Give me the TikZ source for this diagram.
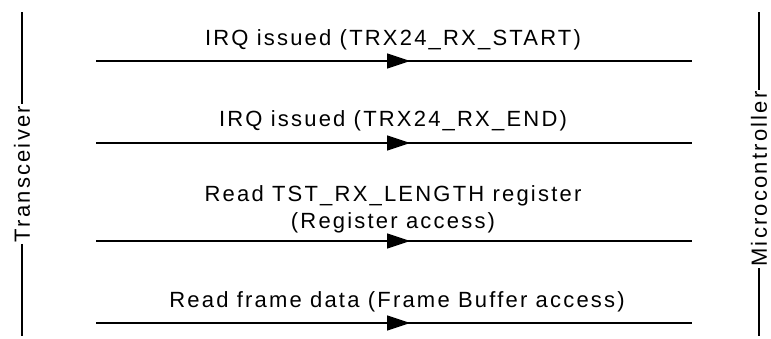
\documentclass[tikz,border=0pt]{standalone}
\usepackage{fontspec}
\setmainfont[LetterSpace=10]{Liberation Sans}
\usetikzlibrary{arrows.meta,decorations.markings}
\begin{document}
\begin{tikzpicture}[x=1pt,y=-1pt,
  lbl/.style={font=\fontsize{22}{27}\selectfont, inner sep=0pt, anchor=base, align=center},
  life/.style={font=\fontsize{22}{27}\selectfont, rotate=90, inner xsep=1.5pt, inner ysep=0pt},
  lifeline/.style={line width=1.3pt},
  msg/.style={line width=1.3pt, postaction={decorate},
    decoration={markings, mark=at position 0.527 with {\arrow{Triangle[length=23pt,width=15pt]}}}}]
\useasboundingbox (0,0) rectangle (771,338);
% lifelines
\coordinate (Ltop) at (22,12);
\coordinate (Lbot) at (22,336);
\node[life] (T) at (22,174) {Transceiver};
\draw[lifeline] (Ltop) -- (T.east);
\draw[lifeline] (T.west) -- (Lbot);
\coordinate (Rtop) at (759,12);
\coordinate (Rbot) at (759,336);
\node[life] (M) at (759,179) {Microcontroller};
\draw[lifeline] (Rtop) -- (M.east);
\draw[lifeline] (M.west) -- (Rbot);
% messages
\coordinate (a1) at (96,61);  \coordinate (b1) at (692,61);
\coordinate (a2) at (96,143); \coordinate (b2) at (692,143);
\coordinate (a3) at (96,241); \coordinate (b3) at (692,241);
\coordinate (a4) at (96,323); \coordinate (b4) at (692,323);
\draw[msg] (a1) -- (b1);
\draw[msg] (a2) -- (b2);
\draw[msg] (a3) -- (b3);
\draw[msg] (a4) -- (b4);
\node[lbl] (t1) at (393,45) {IRQ issued (TRX24\_RX\_START)};
\node[lbl] (t2) at (393,126) {IRQ issued (TRX24\_RX\_END)};
\node[lbl] (t3) at (393,228) {Read TST\_RX\_LENGTH register\\(Register access)};
\node[lbl] (t4) at (397,307) {Read frame data (Frame Buffer access)};
\end{tikzpicture}
\end{document}
